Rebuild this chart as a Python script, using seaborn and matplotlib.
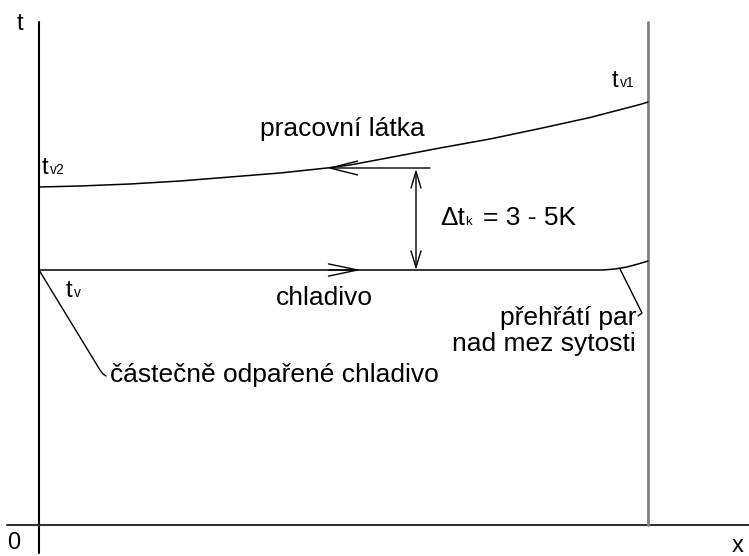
import numpy as np
import pandas as pd
import matplotlib
matplotlib.use("Agg")
import matplotlib.pyplot as plt
import seaborn as sns

# --- data (x = position along exchanger, t = temperature, arbitrary units) ---
x_prac = [0, 41, 91, 141, 191, 241, 288, 311, 351, 401, 451, 501, 551, 601, 609]
t_prac = [338, 339, 341, 344, 348, 352, 357, 360, 367.5, 377, 386, 396.5, 407.5, 420.5, 423]

x_chlad = [0, 564, 576, 588, 599, 609]
t_chlad = [255, 255, 256, 258, 261, 264]

x_lead1 = [0, 61, 64, 67]
t_lead1 = [255, 155, 151, 149]
x_lead2 = [581, 603, 599]
t_lead2 = [256, 212, 209]

x_wall = 609
t_top = 503
dt_x = 377
labels = {
    "prac": "pracovní látka",
    "chlad": "chladivo",
    "part": "částečně odpařené chladivo",
    "preh1": "přehřátí par",
    "preh2": "nad mez sytosti",
    "dt": "= 3 - 5K",
}

sns.set_theme(style="white")
plt.rcParams["font.family"] = ["Liberation Sans", "DejaVu Sans"]

fig = plt.figure(figsize=(7.49, 5.56), dpi=100)
ax = fig.add_axes([0, 0, 1, 1])
ax.set_xlim(-39, 710)
ax.set_ylim(-31, 525)
ax.axis("off")

# osy
ax.plot([0, 0], [-28, t_top], color="black", lw=1.5)
ax.plot([-32, 710], [0, 0], color="#333333", lw=1.5)
ax.plot([x_wall, x_wall], [0, t_top], color="#808080", lw=2)

# krivky
df1 = pd.DataFrame({"x": x_prac, "t": t_prac})
df2 = pd.DataFrame({"x": x_chlad, "t": t_chlad})
sns.lineplot(data=df1, x="x", y="t", sort=False, estimator=None, color="black", lw=1.1, ax=ax)
sns.lineplot(data=df2, x="x", y="t", sort=False, estimator=None, color="black", lw=1.1, ax=ax)
ax.plot(x_lead1, t_lead1, color="black", lw=1)
ax.plot(x_lead2, t_lead2, color="black", lw=1)

# sipky
ax.annotate("", xy=(x_prac[6], t_prac[6]), xytext=(391, t_prac[6]),
            arrowprops=dict(arrowstyle="->,head_length=1.0,head_width=0.25",
                            mutation_scale=20, lw=1, color="black",
                            shrinkA=0, shrinkB=0))
ax.annotate("", xy=(322, t_chlad[0]), xytext=(290, t_chlad[0]),
            arrowprops=dict(arrowstyle="->,head_length=1.05,head_width=0.22",
                            mutation_scale=20, lw=1, color="black",
                            shrinkA=0, shrinkB=0))
ax.annotate("", xy=(dt_x, t_prac[6] - 1), xytext=(dt_x, t_chlad[0]),
            arrowprops=dict(arrowstyle="<->,head_length=0.6,head_width=0.18",
                            mutation_scale=20, lw=1, color="black",
                            shrinkA=0, shrinkB=0))

# popisky
fs = 19
kw = dict(fontsize=fs, color="black")
ax.text(303, 396, labels["prac"], ha="center", va="center", **kw)
ax.text(285, 227, labels["chlad"], ha="center", va="center", **kw)
ax.text(71, 150, labels["part"], ha="left", va="center", **kw)
ax.text(598, 207, labels["preh1"], ha="right", va="center", **kw)
ax.text(597, 181, labels["preh2"], ha="right", va="center", **kw)
ax.text(401, 300, "Δt", ha="left", va="baseline", **kw)
ax.text(426, 300, "k", ha="left", va="baseline", fontsize=9.5, color="black")
ax.text(444, 300, labels["dt"], ha="left", va="baseline", **kw)

# t se dolnim indexem
ts = dict(fontsize=17, color="black", va="baseline", ha="left")
ss = dict(fontsize=10, color="black", va="baseline", ha="left")
ax.text(3, 351, "t", **ts)
ax.text(11, 351, "v2", **ss)
ax.text(573, 438, "t", **ts)
ax.text(581, 438, "v1", **ss)
ax.text(27, 228, "t", **ts)
ax.text(35, 228, "v", **ss)

ax.text(-19, 501, "t", fontsize=17, color="black", ha="center", va="center")
ax.text(-25, -18, "0", fontsize=17, color="black", ha="center", va="center")
ax.text(699, -21, "x", fontsize=17, color="black", ha="center", va="center")

fig.savefig("out.png", dpi=100)
